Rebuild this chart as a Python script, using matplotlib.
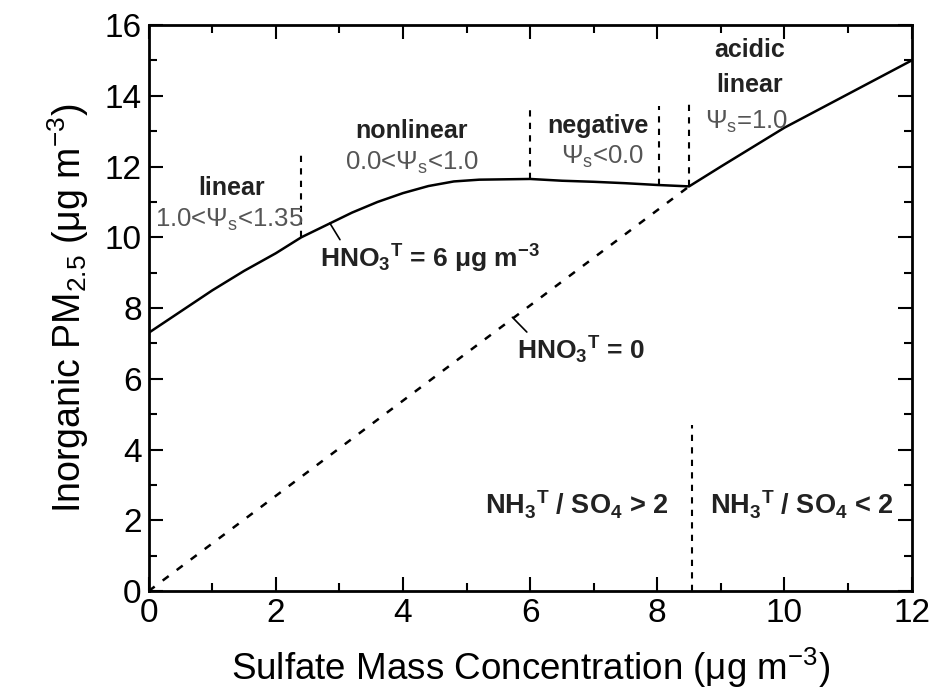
import matplotlib
matplotlib.use("Agg")
import matplotlib.pyplot as plt
from matplotlib.ticker import MultipleLocator

plt.rcParams["font.family"] = ["Liberation Sans", "DejaVu Sans"]
plt.rcParams["mathtext.default"] = "regular"

# HNO3T = 6 ug/m3 curve
sulfate = [0, 0.5, 1.0, 1.5, 2.0, 2.4, 2.8, 3.2, 3.6, 4.0, 4.4, 4.8, 5.2, 5.6,
           6.0, 6.5, 7.0, 7.5, 8.0, 8.5, 9.0, 10.0, 11.0, 12.0]
pm_hno3 = [7.3, 7.9, 8.5, 9.05, 9.55, 10.0, 10.35, 10.7, 11.0, 11.25, 11.45, 11.58,
           11.63, 11.64, 11.65, 11.6, 11.57, 11.53, 11.48, 11.44, 12.0, 13.1, 14.05, 15.0]

# HNO3T = 0 line
sulfate0 = [0, 8.5]
pm_zero = [0, 11.44]

# regime boundaries (x, y_bottom, y_top)
bounds_x = [2.4, 6.0, 8.02, 8.5, 8.55]
bounds_lo = [10.0, 11.65, 11.48, 11.44, 0.0]
bounds_hi = [12.4, 13.7, 13.7, 13.8, 4.7]

fig = plt.figure(figsize=(9.35, 6.97), dpi=100)
ax = fig.add_axes([0.159, 0.152, 0.816, 0.812])

ax.plot(sulfate, pm_hno3, color="black", lw=1.8)
ax.plot(sulfate0, pm_zero, color="black", lw=1.8, ls=(0, (3, 4)))
for x, lo, hi in zip(bounds_x, bounds_lo, bounds_hi):
    ax.plot([x, x], [lo, hi], color="black", lw=1.5, ls=(0, (3, 3)))

ax.set_xlim(0, 12)
ax.set_ylim(0, 16)
ax.xaxis.set_major_locator(MultipleLocator(2))
ax.xaxis.set_minor_locator(MultipleLocator(1))
ax.yaxis.set_major_locator(MultipleLocator(2))
ax.yaxis.set_minor_locator(MultipleLocator(1))
ax.tick_params(which="both", direction="in", top=True, right=True, width=1.5,
               labelsize=24)
ax.tick_params(which="major", length=10, pad=5)
ax.tick_params(which="minor", length=6)
for s in ax.spines.values():
    s.set_linewidth(2)

ax.set_xlabel("Sulfate Mass Concentration (μg m$^{-3}$)", fontsize=26.5, labelpad=12)
ax.set_ylabel("Inorganic PM$_{2.5}$ (μg m$^{-3}$)", fontsize=27, labelpad=10)

grey = "#555555"
dark = "#222222"
bold = dict(fontsize=18, fontweight="bold", ha="center", va="center", color=dark)
thin = dict(fontsize=18.5, ha="center", va="center", color=grey)

ax.text(1.3, 11.4, "linear", **bold)
ax.text(1.27, 10.5, "1.0<Ψ$_s$<1.35", **thin)
ax.text(4.13, 13.0, "nonlinear", **bold)
ax.text(4.15, 12.1, "0.0<Ψ$_s$<1.0", **thin)
ax.text(7.06, 13.16, "negative", **bold)
ax.text(7.14, 12.26, "Ψ$_s$<0.0", **thin)
ax.text(9.45, 15.3, "acidic", **bold)
ax.text(9.45, 14.3, "linear", **bold)
ax.text(9.4, 13.25, "Ψ$_s$=1.0", **thin)

ax.annotate("HNO$_3$$^T$ = 6 μg m$^{-3}$", xy=(2.85, 10.4), xytext=(2.69, 9.4),
            fontsize=19, fontweight="bold", ha="left", va="center", color=dark,
            arrowprops=dict(arrowstyle="-", color="black", lw=1.2,
                            shrinkA=0, shrinkB=0, relpos=(0.1, 1.0)))
ax.annotate("HNO$_3$$^T$ = 0", xy=(5.72, 7.74), xytext=(5.79, 6.8),
            fontsize=19, fontweight="bold", ha="left", va="center", color=dark,
            arrowprops=dict(arrowstyle="-", color="black", lw=1.2,
                            shrinkA=0, shrinkB=0, relpos=(0.1, 1.0)))

ax.text(6.73, 2.43, "NH$_3$$^T$ / SO$_4$ > 2", fontsize=19.5, fontweight="bold",
        ha="center", va="center", color=dark)
ax.text(10.27, 2.43, "NH$_3$$^T$ / SO$_4$ < 2", fontsize=19.5, fontweight="bold",
        ha="center", va="center", color=dark)

fig.savefig("out.png", dpi=100)
